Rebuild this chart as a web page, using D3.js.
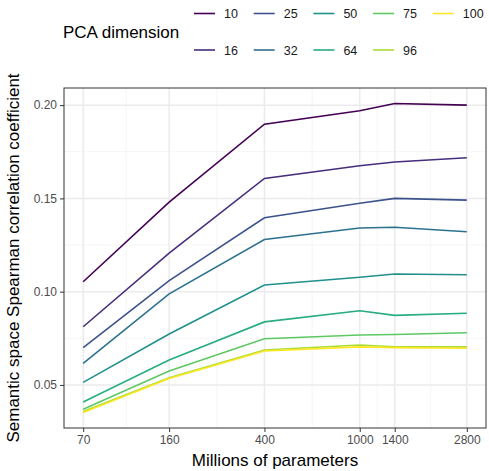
<!DOCTYPE html>
<html>
<head>
<meta charset="utf-8">
<script src="https://cdn.jsdelivr.net/npm/d3@7"></script>
<style>
  body { margin: 0; background: #fff; }
  text { font-family: "Liberation Sans", Arial, sans-serif; }
</style>
</head>
<body>
<div class="chart"></div>
<script>
// model sizes (millions of parameters)
const params = [70, 160, 400, 1000, 1400, 2800];
const dims = ["10", "16", "25", "32", "50", "64", "75", "96", "100"];

const s10  = [0.1053, 0.1480, 0.1898, 0.1970, 0.2009, 0.2000];
const s16  = [0.0812, 0.1206, 0.1607, 0.1675, 0.1695, 0.1718];
const s25  = [0.0700, 0.1059, 0.1396, 0.1474, 0.1500, 0.1491];
const s32  = [0.0616, 0.0988, 0.1280, 0.1341, 0.1345, 0.1321];
const s50  = [0.0514, 0.0773, 0.1036, 0.1077, 0.1095, 0.1091];
const s64  = [0.0409, 0.0634, 0.0838, 0.0898, 0.0873, 0.0884];
const s75  = [0.0370, 0.0575, 0.0748, 0.0768, 0.0770, 0.0780];
const s96  = [0.0357, 0.0539, 0.0687, 0.0714, 0.0705, 0.0704];
const s100 = [0.0352, 0.0534, 0.0682, 0.0704, 0.0700, 0.0697];

const yTicks = [0.05, 0.10, 0.15, 0.20];
const colors = ["#440154", "#472D7B", "#3B528B", "#2C728E", "#21908C",
                "#27AD81", "#5DC863", "#AADC32", "#FDE725"];

const allSeries = [s10, s16, s25, s32, s50, s64, s75, s96, s100];

const width = 489, height = 471;
const margin = {top: 88, right: 3, bottom: 43, left: 64};

const svg = d3.select(".chart").append("svg")
  .attr("width", width)
  .attr("height", height);

// ggplot-like 5% expansion, on the log scale for x
const lx = d3.extent(params).map(Math.log10);
const ex = (lx[1] - lx[0]) * 0.05;
const x = d3.scaleLog()
  .domain([Math.pow(10, lx[0] - ex), Math.pow(10, lx[1] + ex)])
  .range([margin.left, width - margin.right]);

const vals = allSeries.flat();
const ly = d3.extent(vals);
const ey = (ly[1] - ly[0]) * 0.05;
const y = d3.scaleLinear()
  .domain([ly[0] - ey, ly[1] + ey])
  .range([height - margin.bottom, margin.top]);

const x0 = margin.left, x1 = width - margin.right;
const y0 = height - margin.bottom, y1 = margin.top;

// minor grid
const xMinor = params.slice(1).map((p, i) => Math.sqrt(p * params[i]));
const yMinor = [0.075, 0.125, 0.175];

svg.selectAll(".xminor").data(xMinor).enter().append("line")
  .attr("x1", d => x(d)).attr("x2", d => x(d))
  .attr("y1", y0).attr("y2", y1)
  .attr("stroke", "#F2F2F2").attr("stroke-width", 0.8);
svg.selectAll(".yminor").data(yMinor).enter().append("line")
  .attr("y1", d => y(d)).attr("y2", d => y(d))
  .attr("x1", x0).attr("x2", x1)
  .attr("stroke", "#F2F2F2").attr("stroke-width", 0.8);

// major grid
svg.selectAll(".xmajor").data(params).enter().append("line")
  .attr("x1", d => x(d)).attr("x2", d => x(d))
  .attr("y1", y0).attr("y2", y1)
  .attr("stroke", "#EBEBEB").attr("stroke-width", 1.5);
svg.selectAll(".ymajor").data(yTicks).enter().append("line")
  .attr("y1", d => y(d)).attr("y2", d => y(d))
  .attr("x1", x0).attr("x2", x1)
  .attr("stroke", "#EBEBEB").attr("stroke-width", 1.5);

// lines
const line = d3.line()
  .x((d, i) => x(params[i]))
  .y(d => y(d));

svg.selectAll(".series").data(allSeries).enter().append("path")
  .attr("d", d => line(d))
  .attr("fill", "none")
  .attr("stroke", (d, i) => colors[i])
  .attr("stroke-width", 1.6);

// panel border
svg.append("rect")
  .attr("x", x0).attr("y", y1)
  .attr("width", x1 - x0).attr("height", y0 - y1)
  .attr("fill", "none").attr("stroke", "#333333").attr("stroke-width", 1);

// axes
const xAxis = svg.append("g")
  .attr("transform", `translate(0,${y0})`)
  .call(d3.axisBottom(x).tickValues(params).tickFormat(d3.format("d")).tickSize(4).tickPadding(3));
const yAxis = svg.append("g")
  .attr("transform", `translate(${x0},0)`)
  .call(d3.axisLeft(y).tickValues(yTicks).tickFormat(d3.format(".2f")).tickSize(4).tickPadding(3));

[xAxis, yAxis].forEach(g => {
  g.select(".domain").remove();
  g.selectAll(".tick line").attr("stroke", "#333333").attr("stroke-width", 1);
  g.selectAll(".tick text")
    .attr("fill", "#4D4D4D")
    .style("font-size", "12px")
    .style("font-family", "'Liberation Sans', Arial, sans-serif");
});

svg.append("text")
  .attr("x", (x0 + x1) / 2).attr("y", 466)
  .attr("text-anchor", "middle")
  .style("font-size", "17px")
  .text("Millions of parameters");

svg.append("text")
  .attr("transform", `translate(19,${(y0 + y1) / 2}) rotate(-90)`)
  .attr("text-anchor", "middle")
  .style("font-size", "17px")
  .text("Semantic space Spearman correlation coefficient");

// legend
svg.append("text")
  .attr("x", 63).attr("y", 38)
  .style("font-size", "17px")
  .text("PCA dimension");

const leg = svg.selectAll(".leg").data(dims).enter().append("g")
  .attr("transform", (d, i) => {
    const col = Math.floor(i / 2), row = i % 2;
    return `translate(${194 + col * 59.7},${row === 0 ? 13.5 : 50})`;
  });
leg.append("line")
  .attr("x1", 0).attr("x2", 21)
  .attr("stroke", (d, i) => colors[i])
  .attr("stroke-width", 1.6);
leg.append("text")
  .attr("x", 30).attr("y", 4.5)
  .style("font-size", "12.5px")
  .attr("fill", "#1A1A1A")
  .text(d => d);
</script>
</body>
</html>
